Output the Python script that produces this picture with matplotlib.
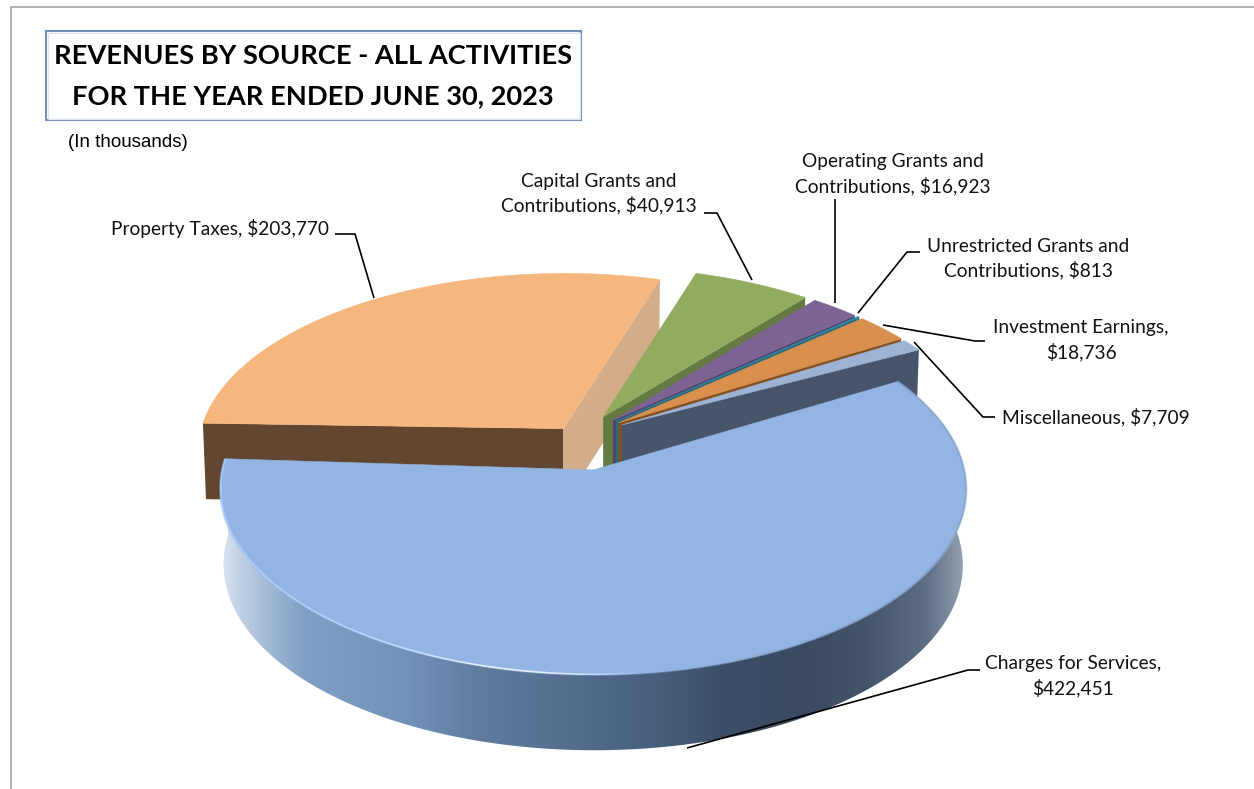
import numpy as np
import matplotlib
matplotlib.use('Agg')
import matplotlib.pyplot as plt
from matplotlib.colors import LinearSegmentedColormap
from matplotlib.patches import Polygon, Rectangle
from matplotlib.collections import LineCollection

# Revenue by source, in thousands of dollars (clockwise order)
sources = ['Property Taxes', 'Capital Grants and\nContributions', 'Operating Grants and\nContributions',
           'Unrestricted Grants and\nContributions', 'Investment Earnings,', 'Miscellaneous', 'Charges for Services,']
revenues = [203770, 40913, 16923, 813, 18736, 7709, 422451]
top_colors = ['#f6b77f', '#93ab5e', '#7e6495', '#2f8aa3', '#d98f4e', '#9cb3d6', '#92b5e3']
wall_colors = ['#634630', '#657a42', '#54406e', '#2b6a7a', '#85501f', '#47546a', '#47546a']
explodes = [0.09, 0.13, 0.13, 0.13, 0.13, 0.13, 0.13]
apex_lift = [0.03, 0.055, 0.055, 0.055, 0.055, 0.055, 0.0]
right_wall_color = '#d3ac89'

# Pie geometry in canvas pixels
start_angle = 176.5
cx, cy = 582, 447
radius = 366
squash = 179
persp = 0.10
depth = 76
bottom_scale = 0.992


def project(x, y, lower=False):
    # simple perspective: the far side of the disc gets smaller
    f = 1 / (1 + persp * y)
    sx = x * radius * f
    sy = y * squash * f
    if lower:
        return cx + sx * bottom_scale, cy - sy + depth
    return cx + sx, cy - sy


def slice_outline(a0, a1, explode, n=200):
    mid = np.radians((a0 + a1) / 2)
    ox, oy = explode * np.cos(mid), explode * np.sin(mid)
    t = np.radians(np.linspace(a0, a1, n))
    return ox, oy, ox + np.cos(t), oy + np.sin(t)


fig = plt.figure(figsize=(12.54, 7.89), dpi=100)
ax = fig.add_axes([0, 0, 1, 1])
ax.set_xlim(0, 1254)
ax.set_ylim(789, 0)
ax.axis('off')

# page frame
ax.plot([10.5, 10.5, 1254], [789, 6.5, 6.5], color='#a6a6a6', lw=1.2)

# angles run clockwise from the start angle
sweep = np.array(revenues) / sum(revenues) * 360
ends = start_angle - np.cumsum(sweep)
starts = ends + sweep

for i in range(len(revenues)):
    a1, a0 = starts[i], ends[i]
    ox, oy, arc_x, arc_y = slice_outline(a0, a1, explodes[i])
    tip_y = oy + apex_lift[i]

    # flat cut faces
    for ang, edge_x, edge_y, is_end in ((a1, arc_x[-1], arc_y[-1], True), (a0, arc_x[0], arc_y[0], False)):
        r = np.radians(ang)
        normal_y = np.cos(r) if is_end else -np.cos(r)
        if normal_y >= 0:
            continue
        px = np.linspace(ox, edge_x, 20)
        py = np.linspace(tip_y, edge_y, 20)
        up = project(px, py)
        low = project(px, py, lower=True)
        color = wall_colors[i] if is_end or i != 0 else right_wall_color
        ax.add_patch(Polygon(np.r_[np.c_[up], np.c_[low][::-1]], closed=True, fc=color, ec='none', zorder=2 + i))

    # outer rim wall with a horizontal shading band
    if sources[i].startswith('Charges'):
        up = np.c_[project(arc_x, arc_y)]
        low = np.c_[project(arc_x, arc_y, lower=True)]
        wall = Polygon(np.r_[up, low[::-1]], closed=True, fc='none', ec='none', zorder=2 + i)
        ax.add_patch(wall)
        shade = LinearSegmentedColormap.from_list('rim', [
            (0.0, '#d6e2f0'), (0.05, '#a9bfd9'), (0.11, '#7f9fc4'), (0.24, '#7293b9'), (0.35, '#5f7c9f'),
            (0.46, '#566e90'), (0.58, '#48607e'), (0.67, '#3c4f68'), (0.78, '#3a4a60'), (0.87, '#44546a'),
            (0.95, '#5e6e84'), (1.0, '#96a2b2')])
        img = ax.imshow(np.linspace(0, 1, 400)[None, :], cmap=shade, aspect='auto',
                        extent=(up[:, 0].min(), up[:, 0].max(), low[:, 1].max() + 2, up[:, 1].min()), zorder=2 + i)
        img.set_clip_path(wall)
        ax.set_xlim(0, 1254)
        ax.set_ylim(789, 0)

    # top surface
    top = np.c_[project(np.r_[ox, arc_x], np.r_[tip_y, arc_y])]
    ax.add_patch(Polygon(top, closed=True, fc=top_colors[i], ec=top_colors[i], lw=0.4, zorder=3 + i))

    # bevel along the front edge of the big slice
    if sources[i].startswith('Charges'):
        up = np.c_[project(arc_x, arc_y)]
        segs = np.stack([up[:-1], up[1:]], axis=1)
        ax.add_collection(LineCollection(segs, colors=top_colors[i], linewidths=2.4, alpha=0.4, zorder=3 + i + 0.3))
        rim = LinearSegmentedColormap.from_list('bevel', [
            (0.0, '#a9cbfa'), (0.2, '#b8d8ff'), (0.38, '#eaf4ff'), (0.47, '#d6e6f8'), (0.56, '#92b5e3'),
            (0.85, '#88a8d2'), (1.0, '#8aa6cc')])
        u = (segs[:, 0, 0] - up[:, 0].min()) / np.ptp(up[:, 0])
        ax.add_collection(LineCollection(segs, colors=rim(u), linewidths=1.2, zorder=3 + i + 0.5))

# title box
ax.add_patch(Rectangle((46, 31), 535, 89, fc='white', ec='#6f8fbc', lw=1.5, zorder=10))
ax.add_patch(Rectangle((47.5, 32.5), 532, 86, fc='none', ec='#dbe5f1', lw=0.8, zorder=10))
ax.text(313, 56, 'REVENUES BY SOURCE - ALL ACTIVITIES', family='Lato', weight='bold', fontsize=19.6,
        ha='center', va='center', zorder=11)
ax.text(313, 96, 'FOR THE YEAR ENDED JUNE 30, 2023', family='Lato', weight='bold', fontsize=19.6,
        ha='center', va='center', zorder=11)
ax.text(68, 142, '(In thousands)', family='Liberation Sans', fontsize=13.5, ha='left', va='center')

# leader lines and labels
leaders = [
    ([335, 355, 374], [234, 234, 298]),
    ([704, 717, 752], [213, 213, 280]),
    ([835, 835], [199, 303]),
    ([920, 907, 858], [252, 252, 313]),
    ([985, 975, 883], [341, 341, 325]),
    ([995, 983, 914], [417, 417, 342]),
    ([980, 968, 687], [670, 670, 748]),
]
for lx, ly in leaders:
    ax.plot(lx, ly, color='black', lw=1.2, zorder=12, solid_capstyle='butt')

money = ['${:,}'.format(v) for v in revenues]
label_font = dict(family='Lato', fontsize=13.8, color='#111111', va='center', zorder=13, linespacing=1.4)
ax.text(220, 228, sources[0] + ', ' + money[0], ha='center', **label_font)
ax.text(599, 193.5, sources[1] + ', ' + money[1], ha='center', **label_font)
ax.text(893, 174, sources[2] + ', ' + money[2], ha='center', **label_font)
ax.text(1028, 258.5, sources[3] + ', ' + money[3], ha='center', **label_font)
ax.text(1081, 340, sources[4] + '\n' + money[4], ha='center', **label_font)
ax.text(1096, 417, sources[5] + ', ' + money[5], ha='center', **label_font)
ax.text(1073, 676, sources[6] + '\n' + money[6], ha='center', **label_font)

fig.savefig('out.png', dpi=100, facecolor='white')
